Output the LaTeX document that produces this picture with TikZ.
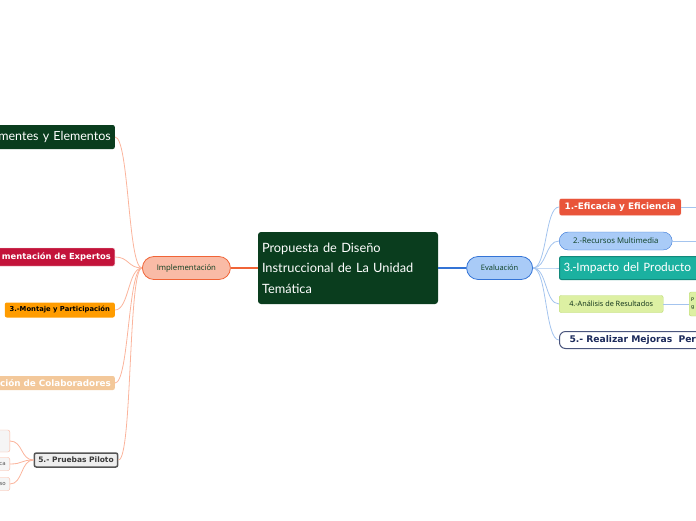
\documentclass[tikz,border=0pt]{standalone}
\usepackage{fontspec}
\setmainfont{DejaVu Sans}
\newfontfamily\calibfont{Carlito}
\newfontfamily\openfont{Open Sans}
\newfontfamily\handfont{Lato}
\usepackage{tikz}
\usetikzlibrary{positioning}
\definecolor{forest}{HTML}{0A3D1E}
\definecolor{salmon}{HTML}{F9BBA6}
\definecolor{salmondraw}{HTML}{F06437}
\definecolor{salmonline}{HTML}{FBB49C}
\definecolor{crimson}{HTML}{C3133A}
\definecolor{amber}{HTML}{FF9C00}
\definecolor{tan}{HTML}{F3C89A}
\definecolor{paper}{HTML}{EEEEEE}
\definecolor{graphite}{HTML}{555555}
\definecolor{sky}{HTML}{A9CBF7}
\definecolor{skydraw}{HTML}{3474D6}
\definecolor{skyline}{HTML}{A4C4EE}
\definecolor{tomato}{HTML}{E9543A}
\definecolor{teal}{HTML}{1BB1A0}
\definecolor{tealdraw}{HTML}{12897B}
\definecolor{lime}{HTML}{DDF0A3}
\definecolor{limedraw}{HTML}{B8D96D}
\definecolor{navy}{HTML}{1D2B5C}
\tikzset{
  topic/.style   = {rectangle, rounded corners=3pt, fill=forest, text=white,
                    minimum width=180pt, minimum height=72pt, text width=172pt,
                    align=left, font=\handfont\fontsize{12.8}{20.5}\selectfont},
  mainL/.style   = {rectangle, rounded corners=11.5pt, draw=salmondraw, thick,
                    fill=salmon, text=forest, minimum width=88pt, minimum height=23pt,
                    font=\openfont\fontsize{7.8}{10}\selectfont},
  mainR/.style   = {rectangle, rounded corners=11.5pt, draw=skydraw, thick,
                    fill=sky, text=forest, minimum width=66pt, minimum height=23pt,
                    font=\openfont\fontsize{7.5}{10}\selectfont},
  leaf/.style    = {rectangle, rounded corners=2pt, inner xsep=4pt, inner ysep=0pt},
  small/.style   = {leaf, draw=salmonline, fill=paper!60, text=graphite,
                    font=\fontsize{5.5}{6}\selectfont, align=right},
  branchL/.style = {draw=salmonline, line width=0.8pt},
  branchR/.style = {draw=skyline, line width=0.8pt},
}
\begin{document}
\begin{tikzpicture}[x=1pt, y=-1pt]
  \useasboundingbox (0,0) rectangle (696,520);

  % ----- central topic -----
  \node[topic] (topic) at (348,268)
       {Propuesta de Diseño\\Instruccional de La Unidad\\Temática};

  % ----- left: Implementacion -----
  \node[mainL, left=27pt of topic] (impl) {Implementación};

  \node[leaf, anchor=east, fill=forest, text=white, minimum height=24pt,
        text width=150pt, align=right, font=\handfont\fontsize{12.5}{14}\selectfont]
       (comp) at (115,137) {mentes y Elementos};
  \node[leaf, anchor=east, fill=crimson, draw=crimson!25, text=white, minimum height=18pt,
        text width=150pt, align=right, font=\bfseries\fontsize{8.4}{10}\selectfont]
       (expert) at (115,257) {mentación de Expertos};
  \node[leaf, anchor=east, fill=amber, text=black, minimum height=15pt,
        minimum width=110pt, font=\bfseries\fontsize{6.8}{8}\selectfont]
       (montaje) at (115,310) {3.-Montaje y Participación};
  \node[leaf, anchor=east, fill=tan, text=white, minimum height=14pt,
        text width=150pt, align=right, font=\bfseries\fontsize{8.8}{10}\selectfont]
       (colab) at (115,383) {ción de Colaboradores};
  \node[leaf, draw=graphite, line width=1.5pt, fill=paper, text=graphite!70!black,
        minimum width=79pt, minimum height=14pt, font=\bfseries\fontsize{7.5}{9}\selectfont]
       (pruebas) at (76,460) {5.- Pruebas Piloto};

  \node[small, anchor=east, minimum height=22pt, text width=40pt] (pilotA) at (10,441) {};
  \node[small, anchor=east, minimum height=13pt, text width=40pt] (pilotB) at (10,464) {ca};
  \node[small, anchor=east, minimum height=13pt, text width=40pt] (pilotC) at (10,484) {so};

  \draw[salmondraw, line width=1.3pt] (topic.west) -- (impl.east);
  \draw[branchL] (impl.west) .. controls +(-14,0) and +(14,0) .. (comp.east);
  \draw[branchL] (impl.west) .. controls +(-14,0) and +(14,0) .. (expert.east);
  \draw[branchL] (impl.west) .. controls +(-14,0) and +(14,0) .. (montaje.east);
  \draw[branchL] (impl.west) .. controls +(-14,0) and +(14,0) .. (colab.east);
  \draw[branchL] (impl.west) .. controls +(-14,0) and +(14,0) .. (pruebas.east);
  \draw[branchL] (pruebas.west) .. controls +(-13,0) and +(13,0) .. (pilotA.east);
  \draw[branchL] (pruebas.west) .. controls +(-13,0) and +(13,0) .. (pilotB.east);
  \draw[branchL] (pruebas.west) .. controls +(-13,0) and +(13,0) .. (pilotC.east);

  % ----- right: Evaluacion -----
  \node[mainR, right=28pt of topic] (eval) {Evaluación};

  \node[leaf, anchor=west, fill=tomato, draw=white, text=white, minimum width=122pt,
        minimum height=17pt, font=\bfseries\fontsize{8.9}{10}\selectfont]
       (eficacia) at (559,207) {1.-Eficacia y Eficiencia};
  \node[leaf, anchor=west, rounded corners=9pt, draw=skydraw, fill=sky, text=forest,
        minimum width=113pt, minimum height=18pt, font=\openfont\fontsize{7.8}{10}\selectfont]
       (recursos) at (559,241) {2.-Recursos Multimedia};
  \node[leaf, anchor=west, draw=tealdraw, line width=1pt, fill=teal, text=white,
        text width=150pt, align=left, minimum height=23pt,
        font=\calibfont\fontsize{12.8}{14}\selectfont]
       (impacto) at (559,268) {3.-Impacto del Producto};
  \node[leaf, anchor=west, draw=limedraw, fill=lime, text=forest!70!black,
        minimum width=104pt, minimum height=17pt, font=\openfont\fontsize{7.3}{9}\selectfont]
       (analisis) at (559,304) {4.-Análisis de Resultados};
  \node[leaf, anchor=west, draw=limedraw, fill=lime, text=forest!70!black, align=left,
        inner xsep=2pt, text width=20pt, minimum height=24pt, font=\fontsize{5}{7}\selectfont]
       (resultado) at (689,304) {P\\g};
  \node[leaf, anchor=west, rounded corners=6pt, draw=navy!80, line width=1pt, fill=white,
        text=navy, text width=150pt, align=left, inner xsep=10pt, minimum height=17pt,
        font=\bfseries\fontsize{9.2}{10}\selectfont]
       (mejoras) at (559,340) {5.- Realizar Mejoras\ \ Per};

  \coordinate (eficaciaout) at (700,207);
  \coordinate (recursosout) at (700,241);

  \draw[skydraw, line width=1.3pt] (topic.east) -- (eval.west);
  \draw[branchR] (eval.east) .. controls +(14,0) and +(-14,0) .. (eficacia.west);
  \draw[branchR] (eval.east) .. controls +(14,0) and +(-14,0) .. (recursos.west);
  \draw[branchR] (eval.east) .. controls +(14,0) and +(-14,0) .. (impacto.west);
  \draw[branchR] (eval.east) .. controls +(14,0) and +(-14,0) .. (analisis.west);
  \draw[branchR] (eval.east) .. controls +(14,0) and +(-14,0) .. (mejoras.west);
  \draw[branchR] (eficacia.east) -- (eficaciaout);
  \draw[branchR] (recursos.east) -- (recursosout);
  \draw[branchR] (analisis.east) -- (resultado.west);

\end{tikzpicture}
\end{document}
